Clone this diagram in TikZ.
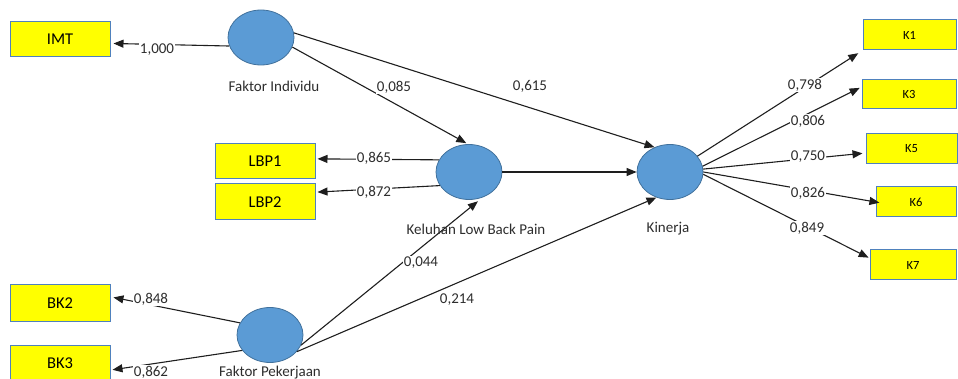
\documentclass[tikz,border=0pt]{standalone}
\usepackage{fontspec}
\setmainfont{Carlito}
\usetikzlibrary{shapes.geometric,arrows.meta}
\definecolor{lvblue}{RGB}{91,155,213}
\definecolor{lvedge}{RGB}{65,113,156}
\definecolor{mvyellow}{RGB}{255,255,0}
\definecolor{mvedge}{RGB}{79,129,189}
\definecolor{linec}{RGB}{30,30,30}
\definecolor{txtc}{RGB}{45,45,45}
\begin{document}
\begin{tikzpicture}[x=1pt,y=-1pt,
  latent/.style={ellipse, fill=lvblue, draw=lvedge, line width=0.8pt, minimum width=66pt, minimum height=55pt, inner sep=0pt},
  indic/.style={rectangle, fill=mvyellow, draw=mvedge, line width=1pt, inner sep=0pt, font=\fontsize{16.5}{18}\selectfont},
  kind/.style={indic, font=\fontsize{12.5}{14}\selectfont},
  lvname/.style={text=txtc, font=\fontsize{15}{17}\selectfont, inner sep=0pt},
  wlbl/.style={text=txtc, font=\fontsize{15}{17}\selectfont, fill=white, inner sep=1pt},
  conn/.style={draw=linec, line width=1.1pt, -{Triangle[length=10pt,width=8pt]}},
]
\useasboundingbox (0,0) rectangle (958,379);
% latent variables
\node[latent] (fi) at (261,37.5) {};
\node[latent] (klbp) at (469,172) {};
\node[latent] (kin) at (670,172) {};
\node[latent] (fp) at (270,335) {};
% indicators
\node[indic, minimum width=100pt, minimum height=35pt] (imt) at (60,39) {IMT};
\node[indic, minimum width=100pt, minimum height=35pt] (lbp1) at (265,161.5) {LBP1};
\node[indic, minimum width=100pt, minimum height=36pt] (lbp2) at (265,202) {LBP2};
\node[indic, minimum width=100pt, minimum height=36pt] (bk2) at (60,303) {BK2};
\node[indic, minimum width=100pt, minimum height=36pt] (bk3) at (60,363) {BK3};
\node[kind, minimum width=93pt, minimum height=30pt] (k1) at (909.5,35) {K1};
\node[kind, minimum width=94pt, minimum height=29pt] (k3) at (909,94.5) {K3};
\node[kind, minimum width=91pt, minimum height=30pt] (k5) at (911.5,149) {K5};
\node[kind, minimum width=80pt, minimum height=30pt] (k6) at (916,202) {K6};
\node[kind, minimum width=86pt, minimum height=30pt] (k7) at (913,265) {K7};
% connectors
\draw[conn, shorten >=3pt] (fi.195) -- (imt.-5);
\draw[conn, shorten >=2pt] (fi.-17) -- (klbp.92);
\draw[conn] (fi.8) -- (kin.122);
\draw[conn] (klbp.east) -- (kin.west);
\draw[conn, shorten >=2pt] (klbp.158) -- (lbp1.3);
\draw[conn, shorten >=2pt] (klbp.205) -- (lbp2.11);
\draw[conn, shorten >=6pt] (fp.-18) -- (klbp.-62);
\draw[conn] (fp.-32) -- (kin.242.5);
\draw[conn, shorten >=3pt] (fp.158) -- (bk2.7);
\draw[conn, shorten >=2pt] (fp.209.5) -- (bk3.-8);
\draw[conn, shorten >=5pt] (kin.30) -- (k1.south west);
\draw[conn, shorten >=2pt] (kin.10) -- (k3.171);
\draw[conn, shorten >=3pt] (kin.5) -- (k5.185);
\draw[conn, shorten >=-4pt] (kin.0) -- (k6.west);
\draw[conn, shorten >=1pt] (kin.-4) -- (k7.171);
% latent names
\node[lvname] (fiN) at (274,86) {Faktor Individu};
\node[lvname] (klbpN) at (476,229) {Keluhan Low Back Pain};
\node[lvname] (kinN) at (668,229) {Kinerja};
\node[lvname] (fpN) at (270,373) {Faktor Pekerjaan};
% path coefficients / loadings
\node[wlbl] (w1) at (157,50) {1,000};
\node[wlbl] (w2) at (394,87) {0,085};
\node[wlbl] (w3) at (530,86) {0,615};
\node[wlbl] (w4) at (374,158) {0,865};
\node[wlbl] (w5) at (374,192) {0,872};
\node[wlbl] (w6) at (421,263) {0,044};
\node[wlbl] (w7) at (457,300) {0,214};
\node[wlbl] (w8) at (151,299) {0,848};
\node[wlbl] (w9) at (151,372) {0,862};
\node[wlbl] (w10) at (805,85) {0,798};
\node[wlbl] (w11) at (808,121) {0,806};
\node[wlbl] (w12) at (808,157) {0,750};
\node[wlbl] (w13) at (808,193) {0,826};
\node[wlbl] (w14) at (807,228) {0,849};
\end{tikzpicture}
\end{document}
